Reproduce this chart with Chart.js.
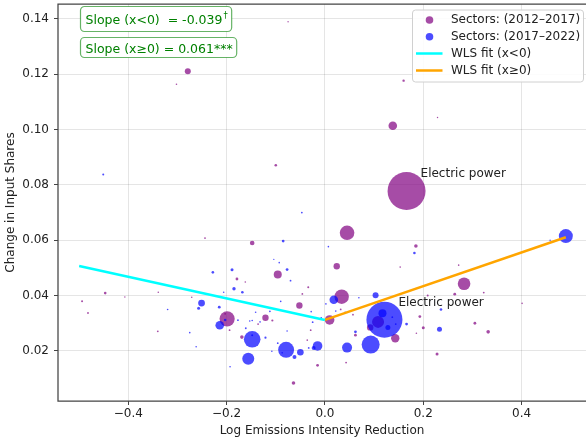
<!DOCTYPE html>
<html>
<head>
<meta charset="utf-8">
<script src="https://cdn.jsdelivr.net/npm/chart.js@4.4.1/dist/chart.umd.min.js"></script>
<style>
  html, body { margin: 0; padding: 0; background: #fff; }
</style>
</head>
<body>
<canvas id="chart" width="586" height="443"></canvas>
<script>
// sectors, 2012-2017 (purple)
const purpleX = [-0.279, -0.302, 0.160, 0.229, 0.138, -0.100, 0.166, -0.075, -0.244, -0.148,
  -0.179, -0.162, -0.447, -0.407, -0.339, -0.271, -0.494, -0.482, -0.199, -0.203,
  -0.136, -0.194, -0.169, -0.340, 0.045, 0.185, 0.153, 0.024, -0.096, -0.034,
  0.034, -0.046, -0.052, 0.032, -0.121, -0.107, 0.0095, 0.108, 0.092, 0.143,
  0.193, 0.200, 0.228, 0.209, 0.062, -0.015, -0.064, 0.043, -0.029, 0.272,
  0.283, 0.264, 0.323, 0.401, 0.186, 0.305, 0.332, -0.036, 0.057];
const purpleY = [0.1211, 0.1164, 0.1177, 0.1044, 0.1014, 0.0871, 0.0778, 0.139, 0.0608, 0.059,
  0.046, 0.0449, 0.0409, 0.0395, 0.0412, 0.0394, 0.038, 0.0337, 0.0316, 0.0334,
  0.0297, 0.0275, 0.025, 0.0271, 0.0627, 0.0579, 0.0503, 0.0506, 0.0476, 0.043,
  0.0396, 0.0406, 0.0364, 0.035, 0.032, 0.031, 0.0312, 0.0305, 0.0285, 0.0246,
  0.0324, 0.0284, 0.0189, 0.040, 0.0257, 0.0148, 0.0084, 0.0158, 0.0275, 0.051,
  0.0443, 0.0405, 0.0411, 0.0372, 0.0264, 0.030, 0.0269, 0.0239, 0.0331];
const purpleSize = [3, 0.8, 1.2, 0.7, 4.3, 1.3, 19, 0.7, 0.9, 2.3,
  1.4, 0.8, 1.3, 0.7, 0.8, 0.8, 1, 0.9, 7.6, 0.9,
  0.9, 0.9, 1.8, 0.9, 7.3, 1.8, 0.8, 3.2, 4, 1,
  7.2, 0.9, 3.2, 0.9, 3.2, 1.1, 4.8, 6, 3.2, 4.2,
  1.4, 1.5, 1.5, 1, 1.4, 1.4, 1.8, 0.9, 0.9, 0.8,
  6.3, 1.4, 0.9, 0.8, 0.8, 1.4, 1.8, 0.8, 0.9];

// sectors, 2017-2022 (blue)
const blueX = [-0.451, -0.047, 0.490, 0.458, -0.189, -0.228, -0.185, -0.168, -0.206, -0.251,
  -0.257, -0.320, -0.215, -0.214, -0.177, -0.153, -0.148, -0.141, -0.161, -0.148,
  -0.148, -0.156, -0.193, -0.275, -0.262, -0.085, 0.182, 0.007, -0.104, -0.093,
  -0.077, -0.070, 0.018, 0.103, 0.069, -0.090, 0.002, -0.112, -0.028, -0.0075,
  -0.025, 0.121, 0.117, 0.128, 0.137, 0.144, 0.236, 0.233, 0.062, 0.093,
  0.045, -0.015, -0.023, -0.033, -0.079, -0.050, -0.062, -0.096, -0.087, -0.108,
  0.166, -0.203, -0.121, -0.132, -0.077, 0.022, 0.041];
const blueY = [0.0838, 0.070, 0.0615, 0.060, 0.0493, 0.0484, 0.0425, 0.0412, 0.0412, 0.0373,
  0.0354, 0.035, 0.0358, 0.0293, 0.0311, 0.0308, 0.031, 0.034, 0.0282, 0.0257,
  0.0242, 0.0172, 0.0143, 0.0266, 0.0215, 0.0597, 0.0554, 0.0577, 0.0531, 0.0519,
  0.0494, 0.0454, 0.0385, 0.0401, 0.0392, 0.0379, 0.037, 0.0343, 0.0342, 0.0319,
  0.0304, 0.0313, 0.0336, 0.0285, 0.0322, 0.0297, 0.035, 0.0278, 0.0269, 0.0223,
  0.0212, 0.0218, 0.0211, 0.0211, 0.0204, 0.0195, 0.0178, 0.0228, 0.0193, 0.0199,
  0.0297, 0.0312, 0.0248, 0.0305, 0.0272, 0.0344, 0.034];
const blueSize = [1, 0.9, 7, 0.7, 1.5, 1.3, 1.7, 1.3, 0.8, 3.4,
  1.5, 0.8, 1.4, 4.3, 0.9, 0.8, 0.8, 0.8, 0.9, 1,
  8.3, 6, 0.8, 0.8, 0.8, 1.4, 1.3, 0.8, 0.7, 0.8,
  1.4, 0.9, 4.3, 3, 0.8, 0.8, 0.8, 0.9, 0.8, 0.9,
  0.9, 18, 4, 2.5, 0.9, 0.9, 1.3, 2.5, 1.4, 9,
  5, 4.8, 2, 0.9, 8, 3.3, 2, 0.9, 0.8, 0.8,
  1.4, 1.3, 1.1, 0.8, 0.8, 0.8, 0.8];

// WLS fit lines
const fitLeftX = [-0.5, 0];
const fitLeftY = [0.0507, 0.0312];
const fitRightX = [0, 0.49];
const fitRightY = [0.0312, 0.0611];

const xTicks = [-0.4, -0.2, 0, 0.2, 0.4];
const yTicks = [0.02, 0.04, 0.06, 0.08, 0.10, 0.12, 0.14];

const slopeTexts = ['Slope (x<0)  = -0.039', 'Slope (x\u22650) = 0.061***'];
const slopeMarks = ['\u2020', ''];

const labelText = ['Electric power', 'Electric power'];
const labelX = [0.166, 0.121];
const labelY = [0.0778, 0.0312];

const seriesNames = ['Sectors: (2012\u20132017)', 'Sectors: (2017\u20132022)', 'WLS fit (x<0)', 'WLS fit (x\u22650)'];

const PURPLE = 'rgba(128,0,128,0.7)';
const BLUE = 'rgba(0,0,255,0.7)';
const CYAN = '#00ffff';
const ORANGE = '#ffa500';
const FONT = '"DejaVu Sans", sans-serif';

const toPts = (xs, ys) => xs.map((x, i) => ({ x: x, y: ys[i] }));

const decor = {
    id: 'decor',
    afterDatasetsDraw(chart) {
        const ctx = chart.ctx;
        const sx = chart.scales.x, sy = chart.scales.y;
        ctx.save();
        ctx.font = '12px ' + FONT;
        ctx.fillStyle = '#222';
        ctx.textBaseline = 'middle';
        ctx.textAlign = 'left';
        labelText.forEach((t, i) => {
            ctx.fillText(t, sx.getPixelForValue(labelX[i]) + 14, sy.getPixelForValue(labelY[i]) - 17.5);
        });
        ctx.restore();
    },
    afterDraw(chart) {
        const ctx = chart.ctx;
        const a = chart.chartArea;
        ctx.save();

        // spines
        ctx.strokeStyle = '#444';
        ctx.lineWidth = 1.25;
        ctx.beginPath();
        ctx.moveTo(a.right + 2, a.top);
        ctx.lineTo(a.left, a.top);
        ctx.lineTo(a.left, a.bottom);
        ctx.lineTo(a.right + 2, a.bottom);
        ctx.stroke();

        // slope boxes
        const boxes = [{ top: 6.5, h: 25, base: 23.5 }, { top: 37.5, h: 20, base: 52.5 }];
        boxes.forEach((b, i) => {
            ctx.font = '12.5px ' + FONT;
            let w = ctx.measureText(slopeTexts[i]).width;
            ctx.font = '8.5px ' + FONT;
            const wm = slopeMarks[i] ? ctx.measureText(slopeMarks[i]).width + 1 : 0;
            const bx = 80.5, bw = w + wm + 9;
            ctx.beginPath();
            ctx.roundRect(bx, b.top, bw, b.h, 4);
            ctx.fillStyle = '#fff';
            ctx.fill();
            ctx.strokeStyle = 'rgba(0,128,0,0.6)';
            ctx.lineWidth = 1.2;
            ctx.stroke();
            ctx.fillStyle = '#008000';
            ctx.textBaseline = 'alphabetic';
            ctx.textAlign = 'left';
            ctx.font = '12.5px ' + FONT;
            ctx.fillText(slopeTexts[i], bx + 5, b.base);
            if (slopeMarks[i]) {
                ctx.font = '8.5px ' + FONT;
                ctx.fillText(slopeMarks[i], bx + 5 + w + 1, b.base - 5.5);
            }
        });

        // legend
        const lx = 412.5, ly = 10, lw = 171, lh = 72;
        ctx.beginPath();
        ctx.roundRect(lx, ly, lw, lh, 3);
        ctx.fillStyle = 'rgba(255,255,255,0.85)';
        ctx.fill();
        ctx.strokeStyle = '#d0d0d0';
        ctx.lineWidth = 1;
        ctx.stroke();
        const rows = [20, 36.7, 53.5, 70.5];
        const kinds = [PURPLE, BLUE, CYAN, ORANGE];
        ctx.font = '12px ' + FONT;
        ctx.textBaseline = 'middle';
        rows.forEach((ry, i) => {
            if (i < 2) {
                ctx.beginPath();
                ctx.arc(429.5, ry, 3.8, 0, Math.PI * 2);
                ctx.fillStyle = kinds[i];
                ctx.fill();
            } else {
                ctx.beginPath();
                ctx.moveTo(416, ry);
                ctx.lineTo(442.5, ry);
                ctx.strokeStyle = kinds[i];
                ctx.lineWidth = 2.5;
                ctx.stroke();
            }
            ctx.fillStyle = '#222';
            ctx.fillText(seriesNames[i], 451, ry);
        });
        ctx.restore();
    }
};

// drop the extra room Chart.js keeps for the end tick labels
const noPad = s => {
    s.paddingLeft = 0;
    s.paddingRight = 0;
    s.paddingTop = 0;
    s.paddingBottom = 0;
};

const chart = new Chart(document.getElementById('chart'), {
    type: 'scatter',
    data: {
        datasets: [
            {
                label: seriesNames[2],
                type: 'line',
                data: toPts(fitLeftX, fitLeftY),
                borderColor: CYAN,
                borderWidth: 2.5,
                pointRadius: 0,
                fill: false,
                order: 0
            },
            {
                label: seriesNames[3],
                type: 'line',
                data: toPts(fitRightX, fitRightY),
                borderColor: ORANGE,
                borderWidth: 2.5,
                pointRadius: 0,
                fill: false,
                order: 0
            },
            {
                label: seriesNames[1],
                data: toPts(blueX, blueY),
                backgroundColor: BLUE,
                borderWidth: 0,
                pointRadius: blueSize,
                pointHoverRadius: blueSize,
                order: 1
            },
            {
                label: seriesNames[0],
                data: toPts(purpleX, purpleY),
                backgroundColor: PURPLE,
                borderWidth: 0,
                pointRadius: purpleSize,
                pointHoverRadius: purpleSize,
                order: 2
            }
        ]
    },
    options: {
        responsive: false,
        animation: false,
        layout: { autoPadding: false, padding: { top: 4, right: 0, left: 0, bottom: 0 } },
        plugins: {
            legend: { display: false },
            tooltip: { enabled: false }
        },
        scales: {
            x: {
                type: 'linear',
                min: -0.543,
                max: 0.531,
                afterBuildTicks: s => { s.ticks = xTicks.map(v => ({ value: v })); },
                afterFit: s => { s.height = 42; noPad(s); },
                border: { display: false },
                grid: { color: 'rgba(0,0,0,0.1)', lineWidth: 1, tickColor: '#444', tickLength: 4 },
                ticks: {
                    font: { family: FONT, size: 12 },
                    color: '#222',
                    padding: 2,
                    maxRotation: 0,
                    callback: v => (v < 0 ? '\u2212' : '') + Math.abs(v).toFixed(1)
                },
                title: {
                    display: true,
                    text: 'Log Emissions Intensity Reduction',
                    font: { family: FONT, size: 12 },
                    color: '#222',
                    padding: { top: 0, bottom: 5 }
                }
            },
            y: {
                type: 'linear',
                min: 0.0019,
                max: 0.1454,
                afterBuildTicks: s => { s.ticks = yTicks.map(v => ({ value: v })); },
                afterFit: s => { s.width = 58; noPad(s); },
                border: { display: false },
                grid: { color: 'rgba(0,0,0,0.1)', lineWidth: 1, tickColor: '#444', tickLength: 4 },
                ticks: {
                    font: { family: FONT, size: 12 },
                    color: '#222',
                    padding: 5,
                    callback: v => v.toFixed(2)
                },
                title: {
                    display: true,
                    text: 'Change in Input Shares',
                    font: { family: FONT, size: 12 },
                    color: '#222',
                    padding: { top: 4, bottom: 0 }
                }
            }
        }
    },
    plugins: [decor]
});
</script>
</body>
</html>
